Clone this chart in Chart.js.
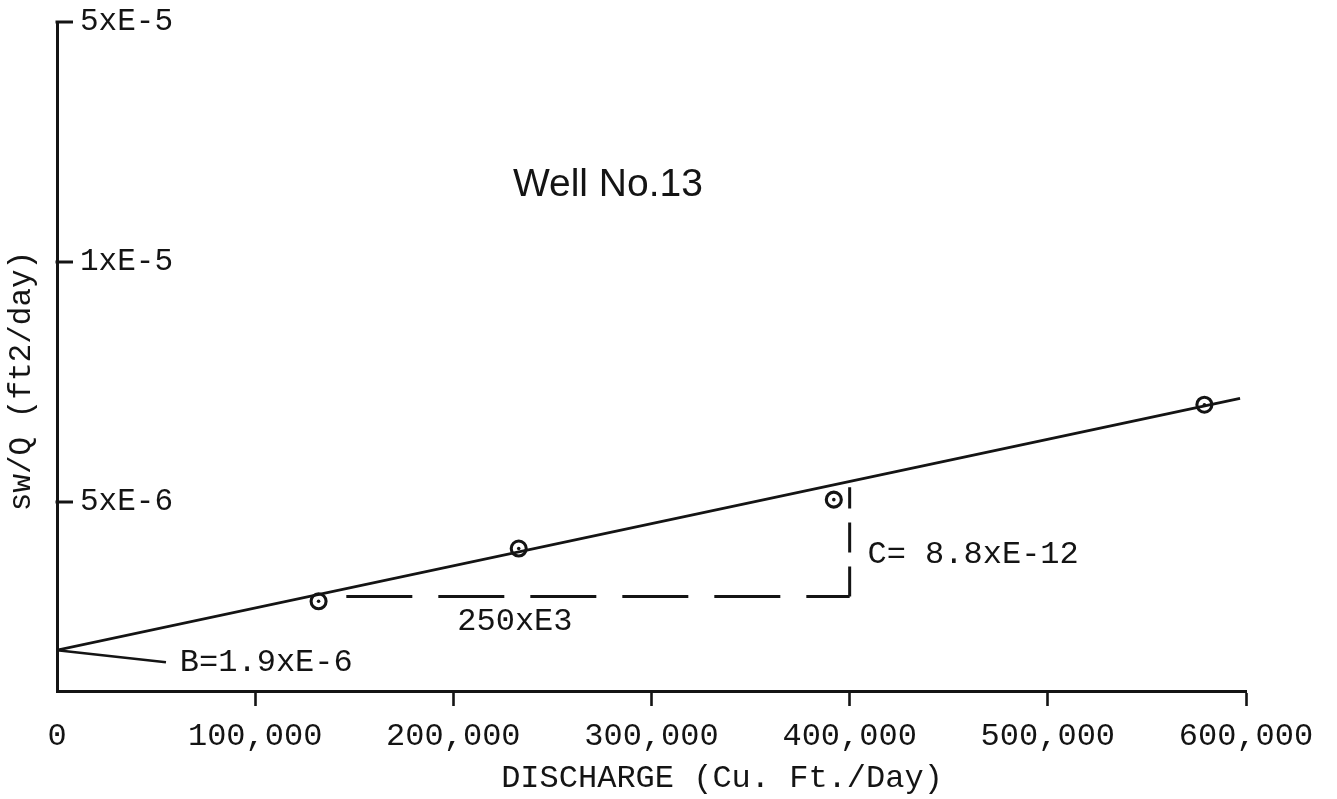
<!DOCTYPE html>
<html>
<head>
<meta charset="utf-8">
<title>Well No.13</title>
<script src="https://cdn.jsdelivr.net/npm/chart.js@4.4.1/dist/chart.umd.min.js"></script>
<style>
  html, body { margin: 0; padding: 0; background: #fff; }
  #chart { display: block; }
</style>
</head>
<body>
<canvas id="chart" width="1337" height="799"></canvas>
<script>
// Step-drawdown test, Well No.13: specific drawdown sw/Q against discharge Q
const discharge = [132000, 233000, 392000, 579000];              // Cu. Ft./Day
const specificDrawdown = [2.92e-6, 4.02e-6, 5.04e-6, 7.02e-6];   // sw/Q

const xTickValues = [0, 100000, 200000, 300000, 400000, 500000, 600000];
const xTickLabels = ['0', '100,000', '200,000', '300,000', '400,000', '500,000', '600,000'];
const yTickValues = [5e-6, 1e-5, 1.5e-5];
const yTickLabels = ['5xE-6', '1xE-5', '5xE-5'];

// Fitted straight line sw/Q = B + C * Q
const B = 1.9e-6;
const C = 8.8e-12;
const fitQ = [0, 597000];

// Slope construction: a run of 250xE3 and the rise up to the line at Q = 400,000
const runQ = [146000, 400000];
const runS = [3.02e-6, 3.02e-6];
const riseQ = [400000, 400000];
const riseS = [3.02e-6, 5.3e-6];

// Leader from the intercept to its label
const leaderQ = [0, 55000];
const leaderS = [B, 1.65e-6];

const ink = '#141414';
const mono = "'Liberation Mono', 'DejaVu Sans Mono', monospace";
const pts = (xs, ys) => xs.map((x, i) => ({ x, y: ys[i] }));

// Text placed on the plot, anchored in data units
const notes = [
  { text: 'Well No.13', q: 278000, s: 11.6e-6, align: 'center', font: "39px 'Liberation Sans', Arial, sans-serif" },
  { text: 'B=1.9xE-6', q: 62000, s: 1.65e-6, align: 'left', font: '32px ' + mono },
  { text: '250xE3', q: 202000, s: 2.5e-6, align: 'left', font: '32px ' + mono },
  { text: 'C= 8.8xE-12', q: 409000, s: 3.9e-6, align: 'left', font: '32px ' + mono }
];

const decorations = {
  id: 'decorations',
  afterDraw(chart) {
    const { ctx, chartArea: area, scales: { x, y } } = chart;
    ctx.save();
    // inward tick marks on the sw/Q axis
    ctx.strokeStyle = ink;
    ctx.lineWidth = 3;
    ctx.lineCap = 'butt';
    yTickValues.forEach(v => {
      const py = Math.round(y.getPixelForValue(v));
      ctx.beginPath();
      ctx.moveTo(area.left - 1.5, py);
      ctx.lineTo(area.left + 16, py);
      ctx.stroke();
    });
    // annotations
    ctx.fillStyle = ink;
    ctx.textBaseline = 'middle';
    notes.forEach(n => {
      ctx.font = n.font;
      ctx.textAlign = n.align;
      ctx.fillText(n.text, x.getPixelForValue(n.q), y.getPixelForValue(n.s));
    });
    // axis titles
    ctx.font = '32px ' + mono;
    ctx.textAlign = 'center';
    ctx.fillText('DISCHARGE (Cu. Ft./Day)', area.left + 665, chart.height - 20);
    ctx.translate(22, area.top + 359);
    ctx.rotate(-Math.PI / 2);
    ctx.font = '31px ' + mono;
    ctx.fillText('sw/Q (ft2/day)', 0, 0);
    ctx.restore();
  }
};

new Chart(document.getElementById('chart'), {
  type: 'scatter',
  data: {
    datasets: [
      {
        label: 'Observed',
        data: pts(discharge, specificDrawdown),
        showLine: false,
        pointStyle: 'circle',
        pointRadius: 7.5,
        pointBorderWidth: 3.1,
        pointBorderColor: ink,
        pointBackgroundColor: 'rgba(0,0,0,0)'
      },
      {
        label: 'Observed centre',
        data: pts(discharge, specificDrawdown),
        showLine: false,
        pointRadius: 1.8,
        pointBorderWidth: 0,
        pointBackgroundColor: ink
      },
      {
        label: 'sw/Q = B + C·Q',
        data: fitQ.map(q => ({ x: q, y: B + C * q })),
        showLine: true,
        borderColor: ink,
        borderWidth: 2.8,
        pointRadius: 0
      },
      {
        label: 'Run',
        data: pts(runQ, runS),
        showLine: true,
        borderColor: ink,
        borderWidth: 3,
        borderDash: [66, 26],
        pointRadius: 0
      },
      {
        label: 'Rise',
        data: pts(riseQ, riseS),
        showLine: true,
        borderColor: ink,
        borderWidth: 3,
        borderDash: [30, 14],
        pointRadius: 0
      },
      {
        label: 'Intercept leader',
        data: pts(leaderQ, leaderS),
        showLine: true,
        borderColor: ink,
        borderWidth: 2.6,
        pointRadius: 0
      }
    ]
  },
  options: {
    responsive: false,
    animation: false,
    devicePixelRatio: 1,
    layout: { padding: { top: 22, right: 91, bottom: 0, left: 0 } },
    plugins: { legend: { display: false }, tooltip: { enabled: false } },
    scales: {
      x: {
        type: 'linear',
        min: 0,
        max: 600000,
        afterBuildTicks: s => { s.ticks = xTickValues.map(v => ({ value: v })); },
        afterFit: s => { s.height = 108; s.paddingLeft = 0; s.paddingRight = 0; },
        ticks: {
          callback: (v, i) => xTickLabels[i],
          font: { family: mono, size: 32 },
          color: ink,
          padding: 11,
          maxRotation: 0,
          autoSkip: false
        },
        grid: {
          drawOnChartArea: false,
          drawTicks: true,
          tickLength: 15,
          tickWidth: 2.6,
          tickColor: c => (c.tick && c.tick.value === 0 ? 'rgba(0,0,0,0)' : ink)
        },
        border: { display: true, color: ink, width: 3 }
      },
      y: {
        type: 'linear',
        min: 1.05e-6,
        max: 1.5e-5,
        afterBuildTicks: s => { s.ticks = yTickValues.map(v => ({ value: v })); },
        afterFit: s => { s.width = 57; s.paddingTop = 0; s.paddingBottom = 0; },
        ticks: {
          mirror: true,
          padding: 23,
          callback: (v, i) => yTickLabels[i],
          font: { family: mono, size: 31 },
          color: ink
        },
        grid: { drawOnChartArea: false, drawTicks: false },
        border: { display: true, color: ink, width: 3 }
      }
    }
  },
  plugins: [decorations]
});
</script>
</body>
</html>
